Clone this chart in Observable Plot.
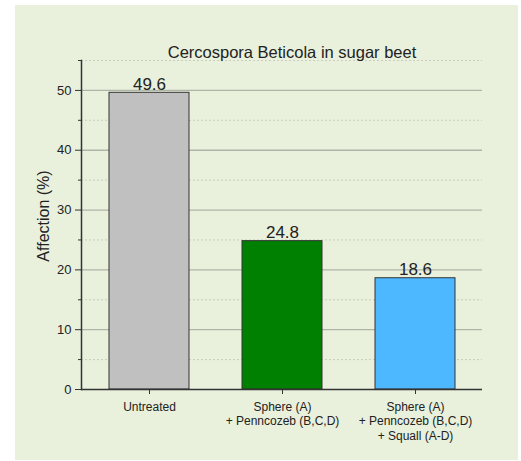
<!DOCTYPE html>
<html>
<head>
<meta charset="utf-8">
<script src="https://cdn.jsdelivr.net/npm/d3@7"></script>
<script src="https://cdn.jsdelivr.net/npm/@observablehq/plot@0.6"></script>
<style>
  html, body { margin: 0; padding: 0; background: #ffffff; }
  #panel { position: absolute; left: 15px; top: 5px; width: 503px; height: 455px; background: #e9f0dc; }
  #panel svg { display: block; }
</style>
</head>
<body>
<div id="panel"></div>
<script>
const title = "Cercospora Beticola in sugar beet";
const yLabel = "Affection (%)";
const categories = [
  "Untreated",
  "Sphere (A)\n+ Penncozeb (B,C,D)",
  "Sphere (A)\n+ Penncozeb (B,C,D)\n+ Squall (A-D)"
];
const values = [49.6, 24.8, 18.6];
const colors = ["#c0c0c0", "#008000", "#4db8ff"];
const majorTicks = [0, 10, 20, 30, 40, 50];
const minorTicks = [5, 15, 25, 35, 45, 55];

const data = categories.map((c, i) => ({cat: c, value: values[i], color: colors[i]}));

const chart = Plot.plot({
  width: 503,
  height: 455,
  marginLeft: 66,
  marginRight: 36,
  marginTop: 55,
  marginBottom: 71,
  style: {background: "transparent", fontFamily: "'Liberation Sans', Arial, sans-serif", color: "#222"},
  x: {domain: categories, paddingInner: 0.4, paddingOuter: 0.2, label: null},
  y: {domain: [0, 55], label: null},
  color: {type: "identity"},
  marks: [
    Plot.gridY(minorTicks, {stroke: "#c9cec1", strokeOpacity: 1, strokeDasharray: "2,2"}),
    Plot.gridY(majorTicks.filter(d => d > 0), {stroke: "#afb5a7", strokeOpacity: 1, strokeWidth: 1.3}),
    Plot.barY(data, {x: "cat", y: "value", fill: "color", stroke: "#333", strokeWidth: 1}),
    Plot.text(data, {x: "cat", y: "value", text: d => d.value.toFixed(1), lineAnchor: "bottom", dy: -3, fontSize: 17, fill: "#222"}),
    Plot.axisY(majorTicks, {tickSize: 6, tickPadding: 4, fontSize: 13, stroke: "#333", label: null}),
    Plot.axisY(minorTicks, {tickSize: 3, text: null, stroke: "#333", label: null}),
    Plot.axisX({tickSize: 5, tickPadding: 6, fontSize: 12, lineHeight: 1.2, stroke: "#333", label: null}),
    Plot.frame({anchor: "left", stroke: "#333", strokeWidth: 1.5}),
    Plot.ruleY([0], {stroke: "#333", strokeWidth: 1.5}),
    Plot.text([title], {frameAnchor: "top", dy: -14, dx: 10, fontSize: 16.5, fill: "#222"}),
    Plot.text([yLabel], {frameAnchor: "left", textAnchor: "middle", rotate: -90, dx: -38, dy: -9, fontSize: 16, fill: "#222"})
  ]
});
document.getElementById("panel").appendChild(chart);
</script>
</body>
</html>
